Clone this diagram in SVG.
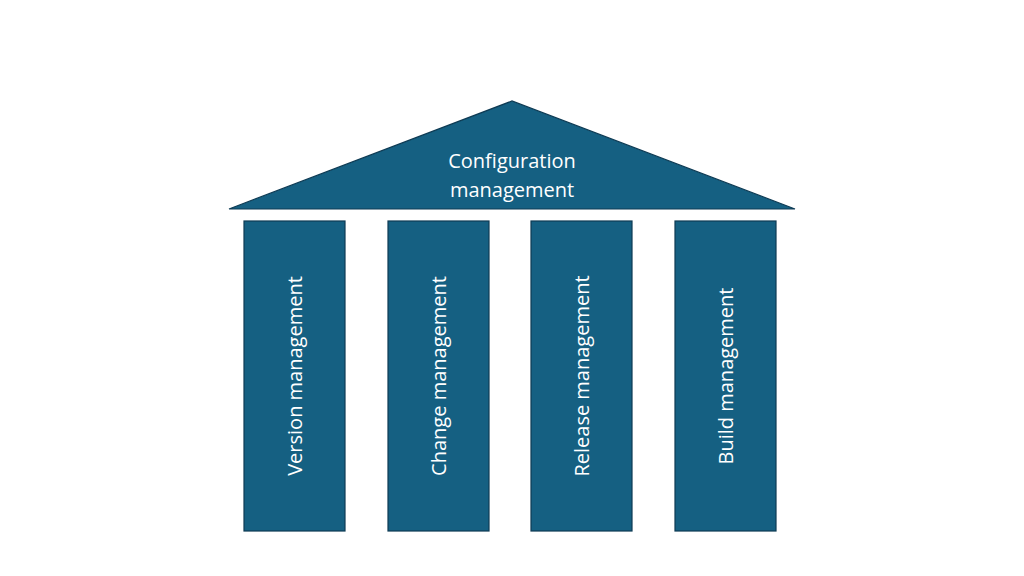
<svg xmlns="http://www.w3.org/2000/svg" width="1024" height="576" viewBox="0 0 1024 576">
<style>
.s{fill:#156082;stroke:#0e3b54;stroke-width:1.2}
.t{fill:#fff;font-family:"Open Sans","Liberation Sans",sans-serif;font-size:20px;text-anchor:middle;dominant-baseline:central}
</style>
<rect width="1024" height="576" fill="#fff"/>
<g id="roof"><polygon class="s" points="229,209 512,101 795,209"/>
<text class="t" x="512" y="160">Configuration</text><text class="t" x="512" y="189">management</text></g>
<g id="p1"><rect class="s" x="244" y="221" width="101" height="310"/><text class="t" transform="translate(294.5,376) rotate(-90)">Version management</text></g>
<g id="p2"><rect class="s" x="388" y="221" width="101" height="310"/><text class="t" transform="translate(438.5,376) rotate(-90)">Change management</text></g>
<g id="p3"><rect class="s" x="531" y="221" width="101" height="310"/><text class="t" transform="translate(581.5,376) rotate(-90)">Release management</text></g>
<g id="p4"><rect class="s" x="675" y="221" width="101" height="310"/><text class="t" transform="translate(725.5,376) rotate(-90)">Build management</text></g>
<g id="connectors"/>
</svg>
